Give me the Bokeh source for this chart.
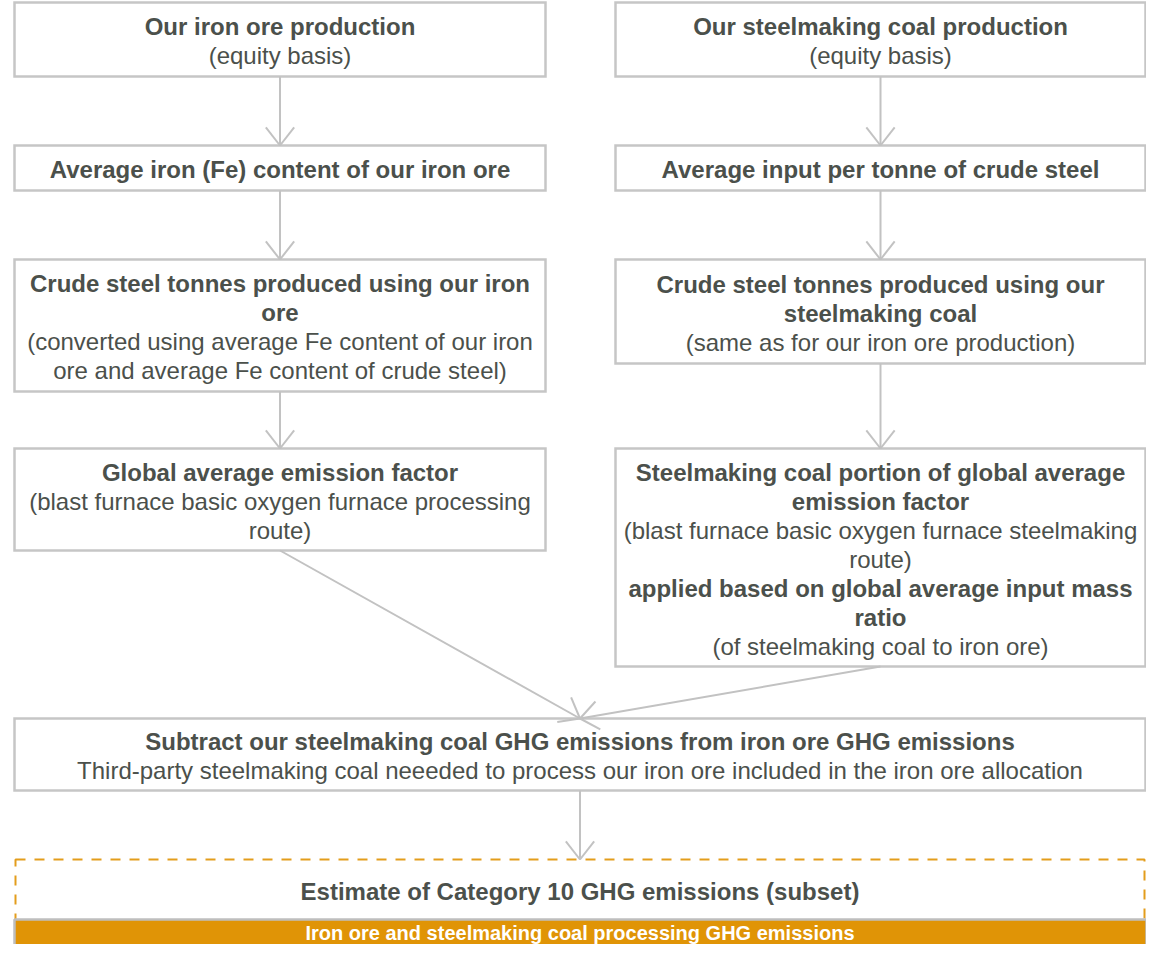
import math
from bokeh.plotting import figure
from bokeh.models import Range1d, ColumnDataSource
from bokeh.core.properties import value
from bokeh.embed import file_html
from bokeh.resources import INLINE

# ---------------- data: node texts (line, weight) ----------------
iron_ore_steps = [
    [("Our iron ore production", "bold"), ("(equity basis)", "normal")],
    [("Average iron (Fe) content of our iron ore", "bold")],
    [("Crude steel tonnes produced using our iron", "bold"), ("ore", "bold"),
     ("(converted using average Fe content of our iron", "normal"),
     ("ore and average Fe content of crude steel)", "normal")],
    [("Global average emission factor", "bold"),
     ("(blast furnace basic oxygen furnace processing", "normal"),
     ("route)", "normal")],
]
coal_steps = [
    [("Our steelmaking coal production", "bold"), ("(equity basis)", "normal")],
    [("Average input per tonne of crude steel", "bold")],
    [("Crude steel tonnes produced using our", "bold"), ("steelmaking coal", "bold"),
     ("(same as for our iron ore production)", "normal")],
    [("Steelmaking coal portion of global average", "bold"),
     ("emission factor", "bold"),
     ("(blast furnace basic oxygen furnace steelmaking", "normal"),
     ("route)", "normal"),
     ("applied based on global average input mass", "bold"),
     ("ratio", "bold"),
     ("(of steelmaking coal to iron ore)", "normal")],
]
combine_step = [
    ("Subtract our steelmaking coal GHG emissions from iron ore GHG emissions", "bold"),
    ("Third-party steelmaking coal neeeded to process our iron ore included in the iron ore allocation", "normal"),
]
estimate_label = "Estimate of Category 10 GHG emissions (subset)"
result_label = "Iron ore and steelmaking coal processing GHG emissions"

# ---------------- layout (screen pixels) ----------------
W, H = 1146, 944
LEFT_COL = (19, 550)
RIGHT_COL = (620, 1150)
FULL = (19, 1150)
iron_rows = [(5, 79), (148, 193), (262, 394), (451, 553)]
coal_rows = [(5, 79), (148, 193), (262, 366), (451, 669)]
combine_row = (721, 793)
estimate_row = (862, 1000)
result_row = (922, 1000)
LINE_H = 29
TEXT_DY = 1.5
X_SHIFT = 5
Y_SHIFT = 3

TEXT_COLOR = "#4B504B"
BORDER = "#C6C6C6"
ARROW = "#C2C2C2"
ORANGE = "#E09406"
DASH_ORANGE = "#E39D1C"
FONT = value("Liberation Sans")

p = figure(width=W, height=H, x_range=Range1d(X_SHIFT, X_SHIFT + W),
           y_range=Range1d(H + Y_SHIFT, Y_SHIFT),
           output_backend="svg", toolbar_location=None, min_border=0)
p.axis.visible = False
p.grid.visible = False
p.outline_line_color = None
p.background_fill_color = "white"
p.border_fill_color = "white"

boxes = dict(l=[], r=[], t=[], b=[])
texts = {"bold": dict(x=[], y=[], t=[]), "normal": dict(x=[], y=[], t=[])}


def add_node(col, row, lines):
    boxes["l"].append(col[0]); boxes["r"].append(col[1])
    boxes["t"].append(row[0]); boxes["b"].append(row[1])
    cx = (col[0] + col[1]) / 2
    cy = (row[0] + row[1]) / 2 + TEXT_DY
    n = len(lines)
    for i, (txt, w) in enumerate(lines):
        texts[w]["x"].append(cx)
        texts[w]["y"].append(cy + (i - (n - 1) / 2) * LINE_H)
        texts[w]["t"].append(txt)


for row, lines in zip(iron_rows, iron_ore_steps):
    add_node(LEFT_COL, row, lines)
for row, lines in zip(coal_rows, coal_steps):
    add_node(RIGHT_COL, row, lines)
add_node(FULL, combine_row, combine_step)

# arrows
shafts = dict(x0=[], y0=[], x1=[], y1=[])
heads = dict(x0=[], y0=[], x1=[], y1=[])
ARM = 23
ANG = math.radians(38)


def add_arrow(x0, y0, x1, y1):
    shafts["x0"].append(x0); shafts["y0"].append(y0)
    shafts["x1"].append(x1); shafts["y1"].append(y1)
    a = math.atan2(y0 - y1, x0 - x1)
    for s in (-1, 1):
        heads["x0"].append(x1); heads["y0"].append(y1)
        heads["x1"].append(x1 + ARM * math.cos(a + s * ANG))
        heads["y1"].append(y1 + ARM * math.sin(a + s * ANG))


for col, rows in ((LEFT_COL, iron_rows), (RIGHT_COL, coal_rows)):
    cx = (col[0] + col[1]) / 2
    for r0, r1 in zip(rows[:-1], rows[1:]):
        add_arrow(cx, r0[1], cx, r1[0])
    add_arrow(cx, rows[-1][1], (FULL[0] + FULL[1]) / 2, combine_row[0])
mid = (FULL[0] + FULL[1]) / 2
add_arrow(mid, combine_row[1], mid, estimate_row[0])

# dashed estimate frame
p.quad(left=[FULL[0] + 1], right=[FULL[1] - 1], top=[estimate_row[0]], bottom=[estimate_row[1]],
       fill_color=None, line_color=DASH_ORANGE, line_width=2, line_dash="10 9")

p.quad(left="l", right="r", top="t", bottom="b", source=ColumnDataSource(boxes),
       fill_color="white", line_color=BORDER, line_width=2.5, line_join="miter")

p.segment(x0="x0", y0="y0", x1="x1", y1="y1", source=ColumnDataSource(shafts),
          line_color=ARROW, line_width=2)
p.segment(x0="x0", y0="y0", x1="x1", y1="y1", source=ColumnDataSource(heads),
          line_color=ARROW, line_width=2)

for w, d in texts.items():
    p.text(x="x", y="y", text="t", source=ColumnDataSource(d), text_font=FONT,
           text_font_size="24px", text_font_style=w, text_align="center",
           text_baseline="middle", text_color=TEXT_COLOR)

p.text(x=[mid], y=[(estimate_row[0] + result_row[0]) / 2 + TEXT_DY], text=[estimate_label],
       text_font=FONT, text_font_size="24px", text_font_style="bold", text_align="center",
       text_baseline="middle", text_color=TEXT_COLOR)

# result bar
p.quad(left=[FULL[0]], right=[FULL[1] + 1], top=[result_row[0]], bottom=[result_row[1]],
       fill_color=ORANGE, line_color="#BEBEBE", line_width=2.5)
p.text(x=[mid], y=[result_row[0] + 13], text=[result_label],
       text_font=FONT, text_font_size="20px", text_font_style="bold", text_align="center",
       text_baseline="middle", text_color="white")

open("out.html", "w").write(file_html(p, INLINE))
